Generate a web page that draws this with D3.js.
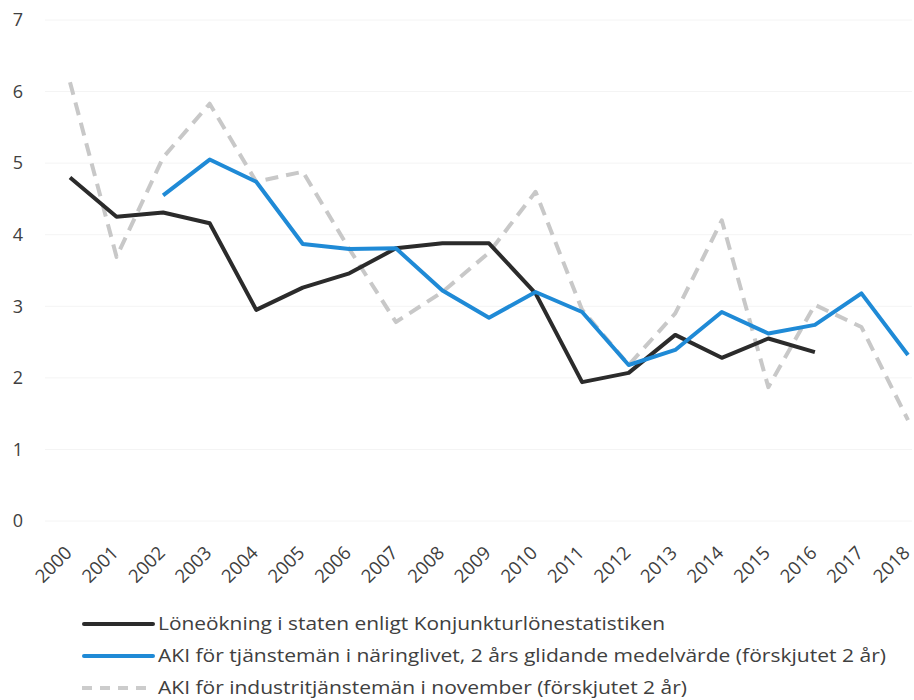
<!DOCTYPE html>
<html>
<head>
<meta charset="utf-8">
<script src="https://cdn.jsdelivr.net/npm/d3@7"></script>
<style>
  body { margin: 0; background: #fff; }
  text { font-family: "Open Sans", sans-serif; fill: #404040; }
</style>
</head>
<body>
<div id="chart"></div>
<script>
// Data
const years = d3.range(2000, 2019);
const yTicks = [0, 1, 2, 3, 4, 5, 6, 7];

const stat = [4.80, 4.25, 4.31, 4.16, 2.95, 3.26, 3.46, 3.81, 3.88, 3.88, 3.18, 1.94, 2.07, 2.60, 2.28, 2.55, 2.36, null, null];
const akiTj = [null, null, 4.55, 5.05, 4.74, 3.87, 3.80, 3.81, 3.22, 2.84, 3.20, 2.92, 2.18, 2.39, 2.92, 2.62, 2.74, 3.18, 2.32];
const akiInd = [6.13, 3.69, 5.08, 5.83, 4.74, 4.88, 3.80, 2.78, 3.20, 3.75, 4.60, 2.95, 2.18, 2.90, 4.20, 1.87, 3.02, 2.71, 1.41];

const legendLabels = [
  "Löneökning i staten enligt Konjunkturlönestatistiken",
  "AKI för tjänstemän i näringlivet, 2 års glidande medelvärde (förskjutet 2 år)",
  "AKI för industritjänstemän i november (förskjutet 2 år)"
];
const legendWidths = [507, 728, 529];

const width = 914, height = 700;

const svg = d3.select("#chart")
  .append("svg")
  .attr("width", width)
  .attr("height", height);

const x = d3.scalePoint().domain(years).range([70, 908]);
const y = d3.scaleLinear().domain([0, 7]).range([521, 20]);

// faint gridlines
svg.append("g")
  .selectAll("line")
  .data(yTicks)
  .enter()
  .append("line")
  .attr("x1", 45)
  .attr("x2", 912)
  .attr("y1", d => y(d))
  .attr("y2", d => y(d))
  .attr("stroke", "#f4f4f4")
  .attr("stroke-width", 1);

// y axis labels
svg.append("g")
  .selectAll("text")
  .data(yTicks)
  .enter()
  .append("text")
  .attr("x", 18)
  .attr("y", d => y(d))
  .attr("dy", "0.35em")
  .attr("text-anchor", "middle")
  .attr("font-size", "18px")
  .text(d => d);

// x axis labels
svg.append("g")
  .selectAll("text")
  .data(years)
  .enter()
  .append("text")
  .attr("transform", d => `translate(${x(d) + 3},${554}) rotate(-45)`)
  .attr("text-anchor", "end")
  .attr("font-size", "18.5px")
  .text(d => d);

const line = data => d3.line()
  .defined(d => d != null)
  .x((d, i) => x(years[i]))
  .y(d => y(d))(data);

const series = [
  { values: akiInd, color: "#c8c8c8", dash: "13,8" },
  { values: stat, color: "#2b2b2b", dash: null },
  { values: akiTj, color: "#1f8ad6", dash: null }
];

svg.append("g")
  .selectAll("path")
  .data(series)
  .enter()
  .append("path")
  .attr("d", d => line(d.values))
  .attr("fill", "none")
  .attr("stroke", d => d.color)
  .attr("stroke-width", 4)
  .attr("stroke-linejoin", "round")
  .attr("stroke-dasharray", d => d.dash);

// legend
const legendStyles = [
  { color: "#2b2b2b", dash: null },
  { color: "#1f8ad6", dash: null },
  { color: "#cccccc", dash: "10,8" }
];

const legend = svg.append("g")
  .selectAll("g")
  .data(legendLabels)
  .enter()
  .append("g")
  .attr("transform", (d, i) => `translate(0,${624 + i * 32})`);

legend.append("line")
  .attr("x1", (d, i) => i === 2 ? 82 : 84)
  .attr("x2", 153)
  .attr("stroke", (d, i) => legendStyles[i].color)
  .attr("stroke-width", 4)
  .attr("stroke-linecap", (d, i) => i === 2 ? "butt" : "round")
  .attr("stroke-dasharray", (d, i) => legendStyles[i].dash);

legend.append("text")
  .attr("x", 158)
  .attr("dy", "0.35em")
  .attr("font-size", "18px")
  .attr("textLength", (d, i) => legendWidths[i])
  .attr("lengthAdjust", "spacingAndGlyphs")
  .text(d => d);
</script>
</body>
</html>
